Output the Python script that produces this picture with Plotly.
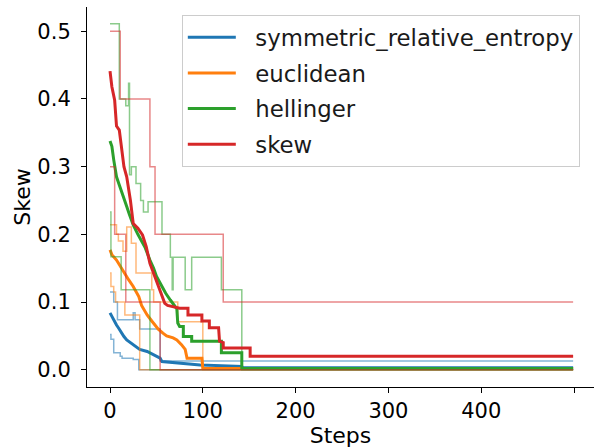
import plotly.graph_objects as go

# ---------------- data ----------------
metrics = ["symmetric_relative_entropy", "euclidean", "hellinger", "skew"]
colors = ["#1f77b4", "#ff7f0e", "#2ca02c", "#d62728"]
x_ticks = [0, 100, 200, 300, 400, 500]
y_ticks = [0.0, 0.1, 0.2, 0.3, 0.4, 0.5]
y_tick_labels = ["0.0", "0.1", "0.2", "0.3", "0.4", "0.5"]

# mean curves: vertices (step, value)
sre_mean_steps = [0, 2, 4, 7, 9, 12, 15, 18, 22, 25, 29, 32, 40, 48, 54, 56, 70, 97, 142, 143, 499]
sre_mean_vals = [0.084, 0.079, 0.072, 0.066, 0.062, 0.055, 0.049, 0.044, 0.040, 0.037, 0.033,
                 0.030, 0.027, 0.021, 0.017, 0.012, 0.010, 0.007, 0.005, 0.003, 0.003]
euc_mean_steps = [0, 2, 7, 10, 14, 17, 20, 25, 28, 31, 34, 37, 40, 45, 49, 52, 57, 61, 68, 72,
                  77, 81, 83, 99, 100, 499]
euc_mean_vals = [0.177, 0.170, 0.162, 0.155, 0.147, 0.140, 0.133, 0.123, 0.115, 0.108, 0.095,
                 0.088, 0.081, 0.072, 0.065, 0.060, 0.054, 0.050, 0.047, 0.044, 0.037, 0.030,
                 0.017, 0.017, 0.002, 0.002]
hel_mean_steps = [0, 2, 4, 7, 10, 13, 16, 18, 21, 25, 30, 34, 38, 43, 47, 50, 53, 56, 60, 65,
                  70, 72, 73, 75, 79, 79, 88, 88, 120, 120, 142, 142, 499]
hel_mean_vals = [0.338, 0.330, 0.310, 0.285, 0.273, 0.260, 0.250, 0.241, 0.229, 0.214, 0.200,
                 0.190, 0.180, 0.162, 0.150, 0.138, 0.130, 0.123, 0.113, 0.103, 0.093, 0.090,
                 0.069, 0.064, 0.064, 0.049, 0.049, 0.042, 0.042, 0.025, 0.025, 0.002, 0.002]
skew_mean_steps = [0, 2, 5, 7, 10, 13, 15, 18, 20, 22, 25, 30, 35, 39, 43, 48, 52, 55, 59, 62,
                   70, 75, 84, 84, 99, 99, 107, 107, 117, 118, 122, 122, 151, 151, 499]
skew_mean_vals = [0.441, 0.418, 0.398, 0.360, 0.354, 0.325, 0.300, 0.285, 0.270, 0.250, 0.216,
                  0.209, 0.199, 0.182, 0.157, 0.138, 0.123, 0.113, 0.098, 0.095, 0.093, 0.091,
                  0.091, 0.081, 0.081, 0.072, 0.072, 0.062, 0.062, 0.042, 0.040, 0.032, 0.032,
                  0.020, 0.020]

# individual runs: step functions (value holds until next step)
sre_run1_steps = [0, 4, 8, 25, 27, 32, 54, 499]
sre_run1_vals = [0.115, 0.100, 0.074, 0.084, 0.074, 0.060, 0.013, 0.013]
sre_run2_steps = [0, 1, 4, 11, 13, 25, 31, 499]
sre_run2_vals = [0.052, 0.045, 0.025, 0.020, 0.017, 0.015, 0.0, 0.0]
euc_run1_steps = [0, 7, 9, 14, 18, 23, 28, 45, 47, 73, 100, 499]
euc_run1_vals = [0.214, 0.200, 0.190, 0.175, 0.211, 0.187, 0.143, 0.118, 0.100, 0.071, 0.0, 0.0]
euc_run2_steps = [0, 1, 4, 6, 16, 32, 499]
euc_run2_vals = [0.143, 0.123, 0.115, 0.100, 0.081, 0.0, 0.0]
hel_run1_steps = [0, 10, 17, 20, 21, 23, 28, 33, 36, 41, 56, 65, 67, 68, 81, 88, 120, 142, 499]
hel_run1_vals = [0.511, 0.400, 0.390, 0.423, 0.288, 0.300, 0.275, 0.250, 0.233, 0.248, 0.200,
                 0.166, 0.118, 0.166, 0.118, 0.166, 0.118, 0.0, 0.0]
hel_run2_steps = [0, 1, 12, 43, 499]
hel_run2_vals = [0.233, 0.167, 0.118, 0.0, 0.0]
skew_run1_steps = [0, 11, 43, 48.5, 122, 499]
skew_run1_vals = [0.500, 0.400, 0.300, 0.200, 0.100, 0.100]
skew_run2_steps = [0, 5, 17, 54, 499]
skew_run2_vals = [0.300, 0.200, 0.100, 0.0, 0.0]

means = [(sre_mean_steps, sre_mean_vals), (euc_mean_steps, euc_mean_vals),
         (hel_mean_steps, hel_mean_vals), (skew_mean_steps, skew_mean_vals)]
runs = [[(sre_run1_steps, sre_run1_vals), (sre_run2_steps, sre_run2_vals)],
        [(euc_run1_steps, euc_run1_vals), (euc_run2_steps, euc_run2_vals)],
        [(hel_run1_steps, hel_run1_vals), (hel_run2_steps, hel_run2_vals)],
        [(skew_run1_steps, skew_run1_vals), (skew_run2_steps, skew_run2_vals)]]


def rgba(hexc, a):
    h = hexc.lstrip("#")
    return "rgba(%d,%d,%d,%s)" % (int(h[0:2], 16), int(h[2:4], 16), int(h[4:6], 16), a)


FONT = "DejaVu Sans"
PAD = "\u00a0\u00a0"  # gap between legend line sample and its label
fig = go.Figure()
for name, col, (ms, mv), rr in zip(metrics, colors, means, runs):
    for rs, rv in rr:
        fig.add_trace(go.Scatter(x=rs, y=rv, mode="lines",
                                 line=dict(color=rgba(col, 0.55), width=1.5, shape="hv"),
                                 showlegend=False, hoverinfo="skip", legendgroup=name))
    fig.add_trace(go.Scatter(x=ms, y=mv, mode="lines", name=PAD + name, legendgroup=name,
                             line=dict(color=col, width=3, shape="linear")))

fig.update_layout(
    width=594, height=448,
    margin=dict(l=87, r=0, t=7, b=61),
    paper_bgcolor="white", plot_bgcolor="white",
    font=dict(family=FONT, size=21, color="black"),
    showlegend=True,
    legend=dict(x=0.187, y=0.979, xanchor="left", yanchor="top",
                bgcolor="rgba(255,255,255,0.8)", bordercolor="#cccccc", borderwidth=1,
                font=dict(family=FONT, size=22.8, color="#1a1a1a"),
                itemwidth=48, tracegroupgap=3, traceorder="grouped"),
    xaxis=dict(range=[-24.8, 521.5], tickvals=x_ticks, showgrid=False, zeroline=False,
               automargin=False,
               showline=True, linecolor="black", linewidth=1.1, ticks="outside",
               ticklen=5, tickwidth=1.1, tickcolor="black",
               title=dict(text="Steps", font=dict(size=22), standoff=4)),
    yaxis=dict(range=[-0.0255, 0.5358], tickvals=y_ticks, ticktext=y_tick_labels,
               showgrid=False, zeroline=False, automargin=False,
               showline=True, linecolor="black", linewidth=1.1, ticks="outside",
               ticklen=5, tickwidth=1.1, tickcolor="black", ticklabelstandoff=6,
               title=dict(text="Skew", font=dict(size=22), standoff=0)),
)

fig.write_html("out.html", config={"displayModeBar": False},
               post_script="document.body.style.margin='0';document.body.style.padding='0';")
